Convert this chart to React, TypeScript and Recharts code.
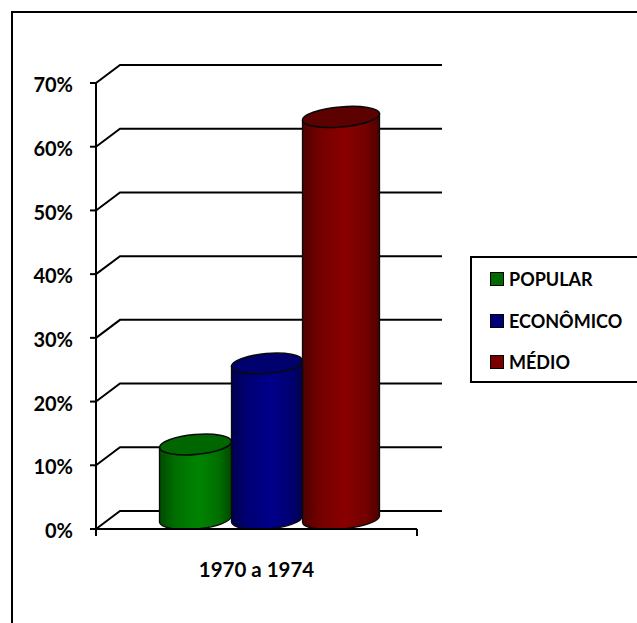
import React from "react";
import { BarChart, Bar, XAxis, YAxis, CartesianGrid, Legend, usePlotArea } from "recharts";

const categories = ["1970 a 1974"];
const seriesNames = ["POPULAR", "ECONÔMICO", "MÉDIO"];
const popularValues = [11.7];
const economicoValues = [24.4];
const medioValues = [63.1];
const yTicks = [0, 10, 20, 30, 40, 50, 60, 70];

const data = categories.map((category, i) => ({
  category,
  POPULAR: popularValues[i],
  "ECONÔMICO": economicoValues[i],
  "MÉDIO": medioValues[i],
}));

const LABEL_FONT = "Lato, 'Noto Sans', sans-serif";
const DEPTH_X = 24;
const DEPTH_Y = 18;
const BAR_SHIFT = 12.5;
const CAP_RY = 10;
const TILT_DEG = 5;
const RULE_WIDTH = 2;

type Tone = { id: string; edge: string; shoulder: string; mid: string; cap: string; swatch: string };
const tones: Record<string, Tone> = {
  POPULAR: { id: "cyl-green", edge: "#004a00", shoulder: "#006f00", mid: "#008400", cap: "#006600", swatch: "#006a00" },
  "ECONÔMICO": { id: "cyl-blue", edge: "#00004e", shoulder: "#000074", mid: "#00008a", cap: "#00006e", swatch: "#00007a" },
  "MÉDIO": { id: "cyl-red", edge: "#4e0000", shoulder: "#740000", mid: "#8a0000", cap: "#5c0000", swatch: "#7a0000" },
};

// Cylinder: the bar rectangle gives width and height, the caps sit half a depth behind the front plane.
function Cylinder(props: any) {
  const { x, y, width, height, tone } = props;
  const t: Tone = tones[tone];
  const rad = (TILT_DEG * Math.PI) / 180;
  const left = x + BAR_SHIFT;
  const cx = left + width / 2;
  const rx = width / 2 / Math.cos(rad);
  const dy = (width / 2) * Math.tan(rad);
  const topCy = y - CAP_RY;
  const botCy = y + height - CAP_RY;
  const body =
    `M ${left} ${topCy + dy} L ${left} ${botCy + dy} ` +
    `A ${rx} ${CAP_RY} ${-TILT_DEG} 0 0 ${left + width} ${botCy - dy} ` +
    `L ${left + width} ${topCy - dy} Z`;
  return (
    <g>
      <path d={body} fill={`url(#${t.id})`} stroke="#0a0a0a" strokeWidth={1.3} />
      <ellipse
        cx={cx}
        cy={topCy}
        rx={rx}
        ry={CAP_RY}
        transform={`rotate(${-TILT_DEG} ${cx} ${topCy})`}
        fill={t.cap}
        stroke="#0a0a0a"
        strokeWidth={1.6}
      />
    </g>
  );
}

// Back-wall gridline: runs from the front axis up the side wall, then across the back.
function WallLine(props: any) {
  const { x1, x2, y1 } = props;
  const backY = y1 - DEPTH_Y;
  return (
    <polyline
      points={`${x1},${y1} ${x1 + DEPTH_X},${backY} ${x2 + DEPTH_X + 1},${backY}`}
      fill="none"
      stroke="#000"
      strokeWidth={RULE_WIDTH}
    />
  );
}

// Tick marks at both ends of the category axis.
function AxisEndTicks() {
  const area = usePlotArea();
  if (!area) return null;
  const bottom = area.y + area.height;
  return (
    <g stroke="#000" strokeWidth={RULE_WIDTH}>
      <line x1={area.x} x2={area.x} y1={bottom} y2={bottom + 7} />
      <line x1={area.x + area.width} x2={area.x + area.width} y1={bottom} y2={bottom + 7} />
    </g>
  );
}

function LegendBox({ payload }: any) {
  return (
    <div style={{ boxSizing: "border-box", width: 172, height: 127, border: "2px solid #000", background: "#fff", position: "relative" }}>
      {(payload || []).map((entry: any, i: number) => (
        <div
          key={entry.value}
          style={{
            position: "absolute",
            left: 18,
            top: 9 + i * 41.5,
            height: 24,
            display: "flex",
            alignItems: "center",
            fontFamily: LABEL_FONT,
            fontWeight: 700,
            fontSize: 18,
            color: "#000",
            whiteSpace: "nowrap",
          }}
        >
          <span
            style={{
              boxSizing: "border-box",
              display: "inline-block",
              width: 14,
              height: 14,
              marginRight: 5,
              border: "1.5px solid #000",
              background: tones[entry.value].swatch,
            }}
          />
          {entry.value}
        </div>
      ))}
    </div>
  );
}

export default function App() {
  return (
    <div style={{ position: "absolute", left: 0, top: 0, width: 637, height: 623, overflow: "hidden", background: "#fff" }}>
      <div style={{ position: "absolute", left: 11, top: 11, width: 640, height: 640, border: "2px solid #000", boxSizing: "border-box" }} />
      <div style={{ position: "absolute", left: 0, top: 0 }}>
        <BarChart
          width={637}
          height={623}
          data={data}
          margin={{ left: 0, top: 83, right: 220, bottom: 0 }}
          barGap={0}
        >
          <defs>
            {Object.values(tones).map((t) => (
              <linearGradient key={t.id} id={t.id} x1="0" y1="0" x2="1" y2="0">
                <stop offset="0" stopColor={t.edge} />
                <stop offset="0.22" stopColor={t.shoulder} />
                <stop offset="0.55" stopColor={t.mid} />
                <stop offset="0.82" stopColor={t.shoulder} />
                <stop offset="1" stopColor={t.edge} />
              </linearGradient>
            ))}
          </defs>
          <CartesianGrid vertical={false} horizontal={(p: any) => <WallLine key={p.key ?? p.y1} {...p} />} />
          <XAxis
            dataKey="category"
            height={94}
            axisLine={{ stroke: "#000", strokeWidth: RULE_WIDTH }}
            tickLine={false}
            tickMargin={27}
            tick={{ fill: "#000", fontFamily: LABEL_FONT, fontWeight: 700, fontSize: 20.5 }}
          />
          <YAxis
            width={96}
            domain={[0, 70]}
            ticks={yTicks}
            allowDataOverflow
            tickFormatter={(v: number) => `${v}%`}
            axisLine={{ stroke: "#000", strokeWidth: RULE_WIDTH }}
            tickLine={{ stroke: "#000", strokeWidth: RULE_WIDTH }}
            tickSize={6}
            tickMargin={17}
            tick={{ fill: "#000", fontFamily: LABEL_FONT, fontWeight: 700, fontSize: 20, dy: 2 }}
          />
          <AxisEndTicks />
          <Legend
            layout="vertical"
            align="center"
            verticalAlign="middle"
            itemSorter={null}
            content={<LegendBox />}
            wrapperStyle={{ left: 470, top: 256, width: 172, height: 127, margin: 0 }}
          />
          <Bar dataKey={seriesNames[0]} fill="#008000" barSize={72} isAnimationActive={false} shape={(p: any) => <Cylinder {...p} tone={seriesNames[0]} />} />
          <Bar dataKey={seriesNames[1]} fill="#000080" barSize={71} isAnimationActive={false} shape={(p: any) => <Cylinder {...p} tone={seriesNames[1]} />} />
          <Bar dataKey={seriesNames[2]} fill="#800000" barSize={77} isAnimationActive={false} shape={(p: any) => <Cylinder {...p} tone={seriesNames[2]} />} />
        </BarChart>
      </div>
    </div>
  );
}
